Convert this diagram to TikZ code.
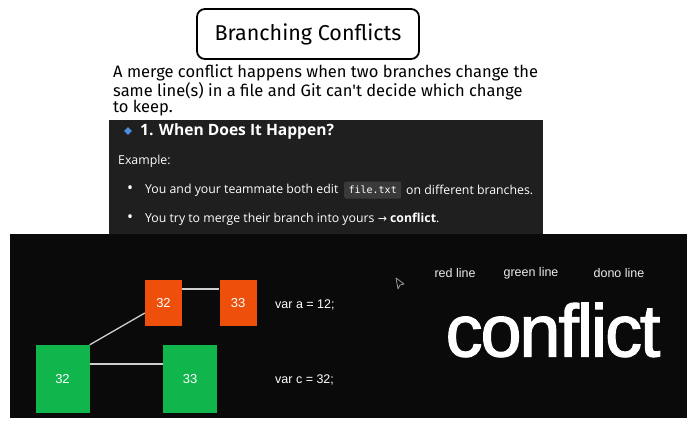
\documentclass[tikz,border=0pt]{standalone}
\usepackage{fontspec}
\usetikzlibrary{shapes.geometric}
\setmainfont{Liberation Sans}
\newfontfamily\ui{Open Sans}
\newfontfamily\hand{Fira Sans}
\newfontfamily\arr{DejaVu Sans}
\newfontfamily\codef{DejaVu Sans Mono}
\newfontfamily\helv{Liberation Sans}
\newfontfamily\bigf[LetterSpace=-3,FakeBold=1.6]{Liberation Sans}
\definecolor{panelA}{HTML}{1F1F1F}
\definecolor{panelB}{HTML}{0A0A0A}
\definecolor{orangeC}{HTML}{EE500C}
\definecolor{greenC}{HTML}{10B54C}
\definecolor{codebg}{HTML}{3A3A3A}
\definecolor{bluedot}{HTML}{4A90E2}
\definecolor{lineC}{HTML}{CFCFCF}
\tikzset{
  orangebox/.style={fill=orangeC, draw=none, minimum width=37pt, minimum height=46pt, inner sep=0pt, text=white, font=\helv\fontsize{13}{15}\selectfont},
  greenbox/.style={fill=greenC, draw=none, minimum width=54pt, minimum height=68pt, inner sep=0pt, text=white, font=\helv\fontsize{13}{15}\selectfont},
  link/.style={draw=lineC, line width=1.3pt},
  uitext/.style={anchor=west, text=white, inner sep=0pt, font=\ui\fontsize{12.3}{15}\selectfont},
  smalllabel/.style={anchor=center, text=white!92!black, inner sep=0pt, font=\helv\fontsize{12.5}{15}\selectfont},
  vartext/.style={anchor=west, text=white, inner sep=0pt, font=\helv\fontsize{12.5}{15}\selectfont},
  handtext/.style={anchor=west, inner sep=0pt, font=\hand\fontsize{16.5}{18}\selectfont},
}
\begin{document}
\begin{tikzpicture}[x=1pt,y=-1pt]
\useasboundingbox (0,0) rectangle (696,428);
\fill[white] (0,0) rectangle (696,428);
% title
\node[draw=black, line width=1.8pt, rounded corners=8pt, minimum width=222pt, minimum height=50pt, inner sep=0pt, font=\hand\fontsize{21.5}{24}\selectfont] (title) at (308,34) {Branching Conflicts};
% paragraph
\node[handtext] (p1) at (113,73) {A merge conflict happens when two branches change the};
\node[handtext] (p2) at (113,91) {same line(s) in a file and Git can't decide which change};
\node[handtext] (p3) at (113,108) {to keep.};
% panel A
\fill[panelA] (109,120) rectangle (543,235);
\node[fill=bluedot, diamond, inner sep=0pt, minimum size=8pt, shape aspect=1] (dot) at (128,131) {};
\node[uitext, font=\ui\bfseries\fontsize{15.6}{18}\selectfont] (h1) at (140,131) {1. When Does It Happen?};
\node[uitext] (ex) at (118,161) {Example:};
\node[uitext, font=\ui\fontsize{16}{16}\selectfont] (b1) at (127,190) {•};
\node[uitext] (l1a) at (145,190) {You and your teammate both edit};
\node[fill=codebg, rounded corners=2pt, text=white, inner sep=0pt, minimum width=57pt, minimum height=17pt, font=\codef\fontsize{10}{12}\selectfont, anchor=west] (code) at (344,190) {file.txt};
\node[uitext] (l1b) at (406,190) {on different branches.};
\node[uitext, font=\ui\fontsize{16}{16}\selectfont] (b2) at (127,219) {•};
\node[uitext] (l2) at (145,219) {You try to merge their branch into yours {\arr\fontsize{11}{12}\selectfont →} \textbf{conflict}.};
% panel B
\fill[panelB] (10,234) rectangle (687,418);
\node[orangebox] (o1) at (163.5,303) {32};
\node[orangebox] (o2) at (238,303) {33};
\node[greenbox] (g1) at (62.5,379) {32};
\node[greenbox] (g2) at (190,379) {33};
\draw[link] (o1.east |- 0,289) -- (o2.west |- 0,289);
\draw[link] (g1.east |- 0,364) -- (g2.west |- 0,364);
\draw[link] (g1.north east) -- (o1.west |- 0,313);
\node[vartext] (va) at (275,305) {var a = 12;};
\node[vartext] (vc) at (275,380) {var c = 32;};
\node[smalllabel] (r) at (455,273) {red line};
\node[smalllabel] (g) at (531,273) {green line};
\node[smalllabel] (d) at (619,273) {dono line};
\node[anchor=center, text=white, inner sep=0pt, font=\bigf\fontsize{74}{80}\selectfont] (cf) at (553,330) {conflict};
% cursor
\draw[gray!80, line width=0.8pt, line join=round] (396,278) -- (404,284) -- (400,285) -- (398,289) -- cycle;
\end{tikzpicture}
\end{document}
